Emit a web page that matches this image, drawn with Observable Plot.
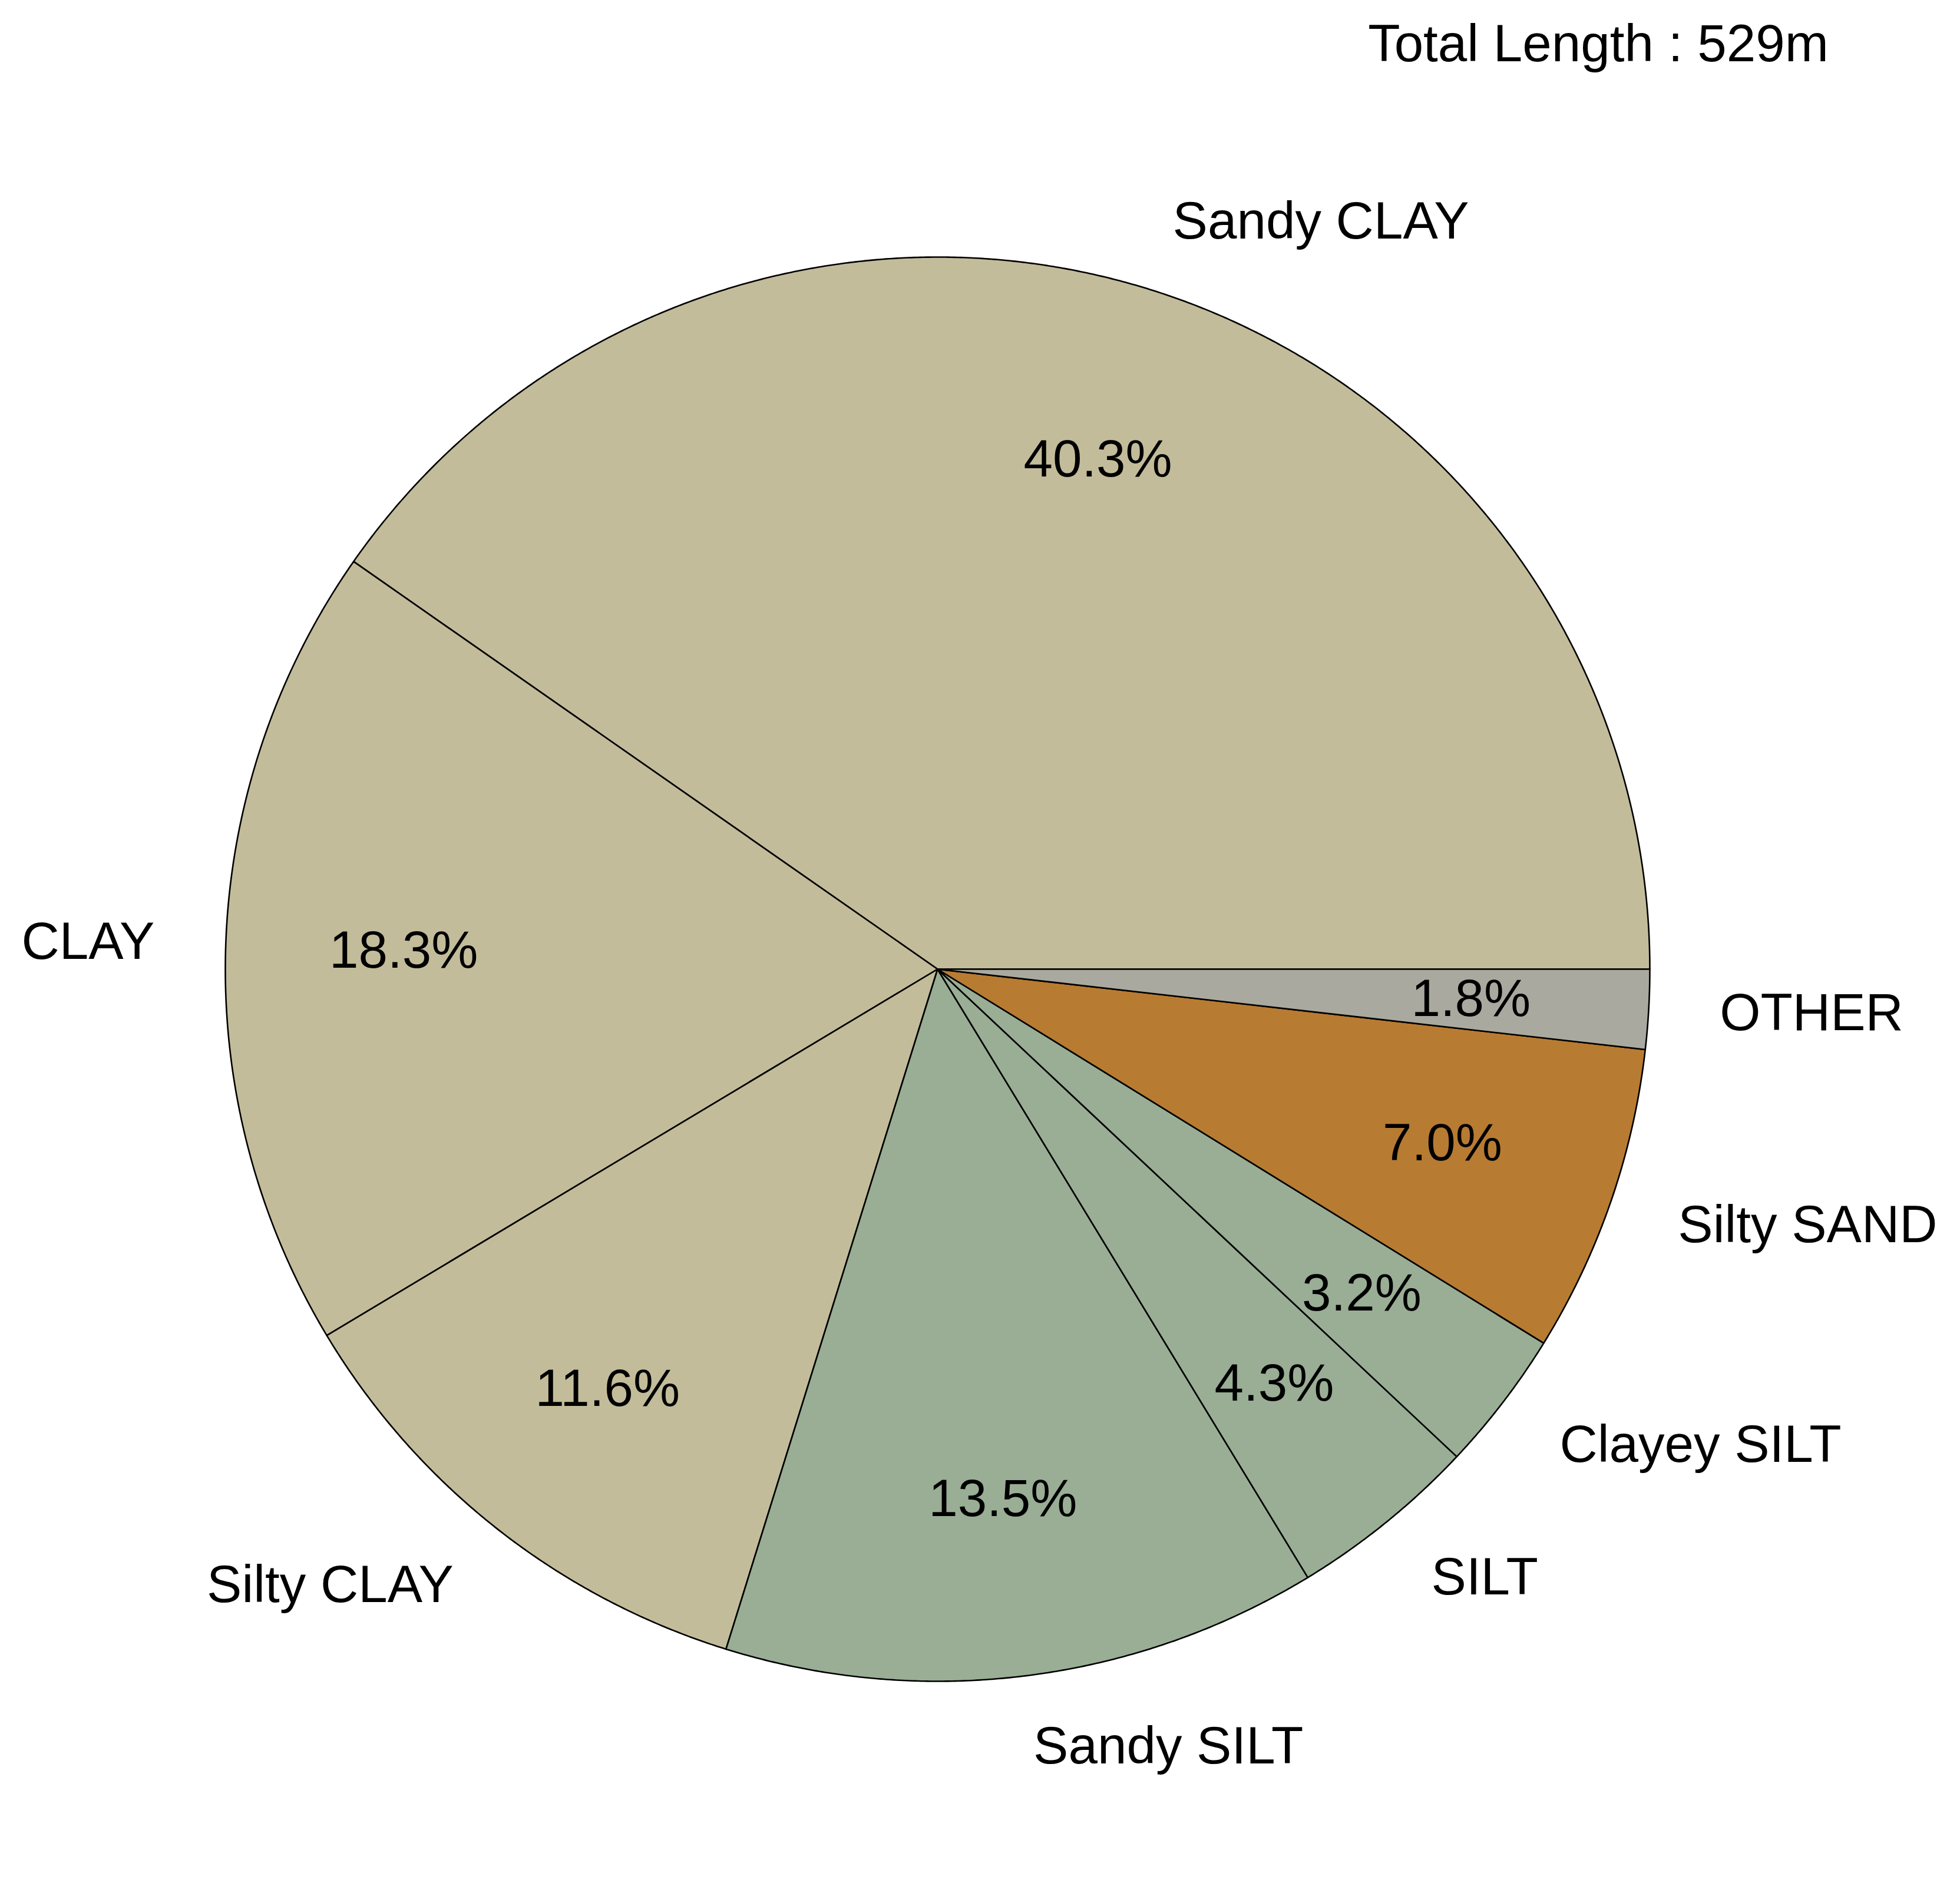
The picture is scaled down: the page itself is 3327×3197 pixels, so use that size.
<!DOCTYPE html>
<html>
<head>
<meta charset="utf-8">
<script src="https://cdn.jsdelivr.net/npm/d3@7"></script>
<script src="https://cdn.jsdelivr.net/npm/@observablehq/plot@0.6"></script>
<style>
  html, body { margin: 0; padding: 0; background: #ffffff; }
  #wrap { width: 3327px; font-family: "Liberation Sans", Arial, sans-serif; }
  #title { position: relative; height: 147px; line-height: 147px; font-size: 89px; color: #000; }
  #title span { position: absolute; left: 2313px; width: 800px; text-align: center; }
  #chart svg { display: block; }
</style>
</head>
<body>
<div id="wrap">
  <div id="title"><span></span></div>
  <div id="chart"></div>
</div>
<script>
// ---- data ----
const categories = ["Sandy CLAY", "CLAY", "Silty CLAY", "Sandy SILT", "SILT", "Clayey SILT", "Silty SAND", "OTHER"];
const percents   = [40.3, 18.3, 11.6, 13.5, 4.3, 3.2, 7.0, 1.8];
const colors     = ["#c3bc9a", "#c3bc9a", "#c3bc9a", "#99ae95", "#99ae95", "#99ae95", "#b87b32", "#a9a99f"];
const totalLength = 529;

// ---- layout ----
const W = 3327, H = 3197 - 147;
const R = 1209;             // pie radius in px
const CX = 1591, CY = 1498; // pie centre in svg px

document.querySelector("#title span").textContent = `Total Length : ${totalLength}m`;

// slice geometry derived from the data (counter-clockwise from east, like matplotlib)
const total = d3.sum(percents);
const slices = [];
let acc = 0;
categories.forEach((c, i) => {
  const a0 = acc / total * 2 * Math.PI;
  acc += percents[i];
  const a1 = acc / total * 2 * Math.PI;
  slices.push({category: c, value: percents[i], a0, a1, mid: (a0 + a1) / 2});
});

const polyPoints = [];
for (const s of slices) {
  polyPoints.push({category: s.category, x: 0, y: 0});
  const n = Math.max(2, Math.ceil((s.a1 - s.a0) / (Math.PI / 720)));
  for (let k = 0; k <= n; k++) {
    const a = s.a0 + (s.a1 - s.a0) * k / n;
    polyPoints.push({category: s.category, x: Math.cos(a), y: Math.sin(a)});
  }
  polyPoints.push({category: s.category, x: 0, y: 0});
}

const labels = slices.map(s => ({
  category: s.category,
  x: 1.1 * Math.cos(s.mid), y: 1.1 * Math.sin(s.mid),
  px: 0.75 * Math.cos(s.mid), py: 0.75 * Math.sin(s.mid),
  pct: s.value.toFixed(1) + "%"
}));

const chart = Plot.plot({
  width: W,
  height: H,
  margin: 0,
  style: {fontFamily: "'Liberation Sans', Arial, sans-serif", background: "#ffffff", color: "#000"},
  x: {axis: null, domain: [-CX / R, (W - CX) / R]},
  y: {axis: null, domain: [-(H - CY) / R, CY / R]},
  color: {domain: categories, range: colors},
  marks: [
    Plot.line(polyPoints, {
      x: "x", y: "y", z: "category", fill: "category",
      stroke: "#000", strokeWidth: 2.6, strokeLinejoin: "round", curve: "linear"
    }),
    Plot.text(labels.filter(d => d.x >= 0), {
      x: "x", y: "y", text: "category", textAnchor: "start", lineAnchor: "middle",
      fontSize: 89, fill: "#000"
    }),
    Plot.text(labels.filter(d => d.x < 0), {
      x: "x", y: "y", text: "category", textAnchor: "end", lineAnchor: "middle",
      fontSize: 89, fill: "#000"
    }),
    Plot.text(labels, {
      x: "px", y: "py", text: "pct", textAnchor: "middle", lineAnchor: "middle",
      fontSize: 89, fill: "#000"
    })
  ]
});
document.getElementById("chart").appendChild(chart);
</script>
</body>
</html>
